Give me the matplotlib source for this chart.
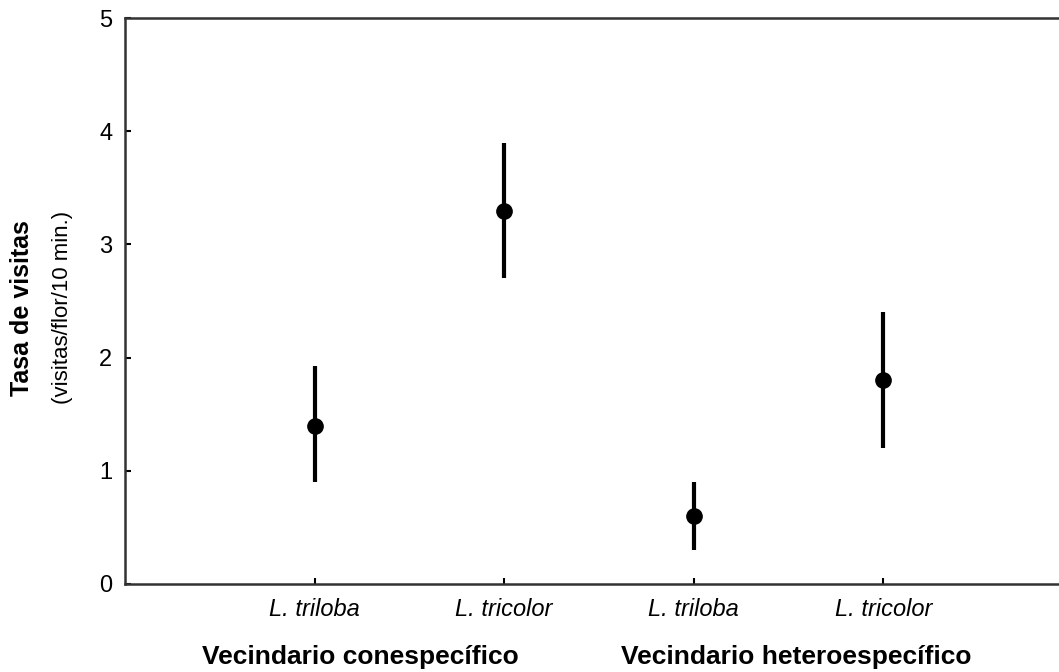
import matplotlib.pyplot as plt
import numpy as np

plt.rcParams['font.family'] = ['Liberation Sans', 'DejaVu Sans']

# data
species = ['L. triloba', 'L. tricolor', 'L. triloba', 'L. tricolor']
groups = ['Vecindario conespecífico', 'Vecindario heteroespecífico']
group_pos = [1.24, 3.54]
means = [1.4, 3.3, 0.6, 1.8]
lower = [0.9, 2.7, 0.3, 1.2]
upper = [1.93, 3.9, 0.9, 2.4]

x = np.arange(1, len(means) + 1)
yerr = [np.array(means) - np.array(lower), np.array(upper) - np.array(means)]

fig = plt.figure(figsize=(10.59, 6.72), dpi=100)
ax = fig.add_axes([0.118, 0.131, 0.895, 0.842])

ax.errorbar(x, means, yerr=yerr, fmt='o', color='black', ecolor='black',
            elinewidth=3, markersize=11, capsize=0)

ax.set_xlim(0, 5)
ax.set_ylim(0, 5)
ax.set_xticks(x)
ax.set_xticklabels(species, fontstyle='italic', fontsize=17)
ax.set_yticks(range(6))
ax.tick_params(axis='y', labelsize=17, direction='in', length=4, width=1.5, pad=9)
ax.tick_params(axis='x', direction='in', length=4, width=1.5, pad=10)

for side in ['left', 'top', 'bottom']:
    ax.spines[side].set_linewidth(1.8)
    ax.spines[side].set_color('#333333')
ax.spines['right'].set_visible(False)

# group labels under the species labels
for pos, name in zip(group_pos, groups):
    ax.text(pos, -0.129, name, transform=ax.get_xaxis_transform(),
            ha='center', va='center', fontsize=19, fontweight='bold')

# y axis label in two lines
fig.text(0.021, 0.542, 'Tasa de visitas', rotation=90, ha='center', va='center',
         fontsize=18, fontweight='bold')
fig.text(0.059, 0.542, '(visitas/flor/10 min.)', rotation=90, ha='center', va='center',
         fontsize=16)

plt.savefig('out.png', dpi=100)
